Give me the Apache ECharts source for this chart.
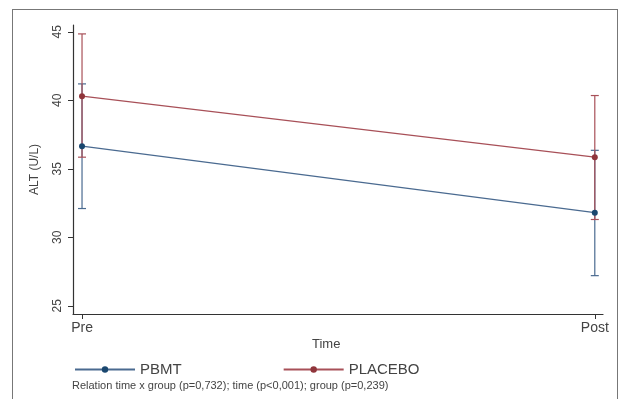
<!DOCTYPE html>
<html>
<head>
<meta charset="utf-8">
<script src="https://cdn.jsdelivr.net/npm/echarts@6/dist/echarts.min.js"></script>
<style>
html,body{margin:0;padding:0;background:#fff;}
#frame{position:absolute;left:12px;top:9px;width:606px;height:420px;border:1.5px solid #777;box-sizing:border-box;}
#c{position:absolute;left:0;top:0;width:623px;height:399px;}
</style>
</head>
<body>
<div id="frame"></div>
<div id="c"></div>
<script>
// Data
var timeLabels = ['Pre', 'Post'];
var timePos = [0, 1];
var groups = ['PBMT', 'PLACEBO'];
var pbmtMean = [36.65, 31.8];
var pbmtLow = [32.1, 27.2];
var pbmtHigh = [41.2, 36.35];
var placeboMean = [40.3, 35.85];
var placeboLow = [35.85, 31.3];
var placeboHigh = [44.85, 40.35];
var yTicks = [25, 30, 35, 40, 45];
var footnote = 'Relation time x group (p=0,732); time (p<0,001); group (p=0,239)';

var blue = '#1a476f', blueLine = '#4a6a90';
var red = '#90353b', redLine = '#a85058';
var font = 'Liberation Sans, Arial, sans-serif';

function pts(means) { return timePos.map(function (t, i) { return [t, means[i]]; }); }
function bars(low, high) { return timePos.map(function (t, i) { return [t, low[i], high[i]]; }); }

function errRender(color) {
  return function (params, api) {
    var x = api.value(0);
    var lo = api.coord([x, api.value(1)]);
    var hi = api.coord([x, api.value(2)]);
    var w = 4;
    var st = { stroke: color, lineWidth: 1.2 };
    return { type: 'group', children: [
      { type: 'line', shape: { x1: lo[0], y1: lo[1], x2: hi[0], y2: hi[1] }, style: st },
      { type: 'line', shape: { x1: lo[0] - w, y1: lo[1], x2: lo[0] + w, y2: lo[1] }, style: st },
      { type: 'line', shape: { x1: hi[0] - w, y1: hi[1], x2: hi[0] + w, y2: hi[1] }, style: st }
    ]};
  };
}

var chart = echarts.init(document.getElementById('c'));
chart.setOption({
  animation: false,
  textStyle: { fontFamily: font },
  grid: { left: 73, right: 20, top: 25, bottom: 85 },
  xAxis: {
    type: 'value', min: -0.0176, max: 1.016,
    splitLine: { show: false },
    axisLine: { onZero: false, lineStyle: { color: '#333', width: 1.2 } },
    axisTick: { customValues: timePos, length: 5, lineStyle: { color: '#333' } },
    axisLabel: { customValues: timePos, formatter: function (v) { return timeLabels[Math.round(v)]; },
      fontSize: 14, color: '#444', margin: 7, fontFamily: font }
  },
  yAxis: {
    type: 'value', min: 24.4, max: 45.5,
    splitLine: { show: false },
    axisLine: { show: true, onZero: false, lineStyle: { color: '#333', width: 1.2 } },
    axisTick: { show: true, customValues: yTicks, length: 5, lineStyle: { color: '#333' } },
    axisLabel: { customValues: yTicks, rotate: 90, fontSize: 12, color: '#444', margin: 9, fontFamily: font },
    name: 'ALT (U/L)', nameLocation: 'middle', nameGap: 32,
    nameTextStyle: { fontSize: 12, color: '#444', fontFamily: font }
  },
  legend: {
    left: 74, top: 362, padding: 0, itemWidth: 60, itemHeight: 8, itemGap: 101,
    data: groups,
    textStyle: { fontSize: 15, color: '#444', fontFamily: font }
  },
  graphic: [
    { type: 'text', left: 312, top: 338, style: { text: 'Time', font: '13px ' + font, fill: '#444' } },
    { type: 'text', left: 72, top: 380, style: { text: footnote, font: '11px ' + font, fill: '#444' } }
  ],
  series: [
    { type: 'custom', name: 'PBMT CI', renderItem: errRender(blueLine), data: bars(pbmtLow, pbmtHigh), z: 2, silent: true },
    { type: 'custom', name: 'PLACEBO CI', renderItem: errRender(redLine), data: bars(placeboLow, placeboHigh), z: 2, silent: true },
    { type: 'line', name: 'PBMT', data: pts(pbmtMean), symbol: 'circle', symbolSize: 6,
      itemStyle: { color: blue }, lineStyle: { color: blueLine, width: 1.3 }, z: 3 },
    { type: 'line', name: 'PLACEBO', data: pts(placeboMean), symbol: 'circle', symbolSize: 6,
      itemStyle: { color: red }, lineStyle: { color: redLine, width: 1.3 }, z: 3 }
  ]
});
</script>
</body>
</html>
